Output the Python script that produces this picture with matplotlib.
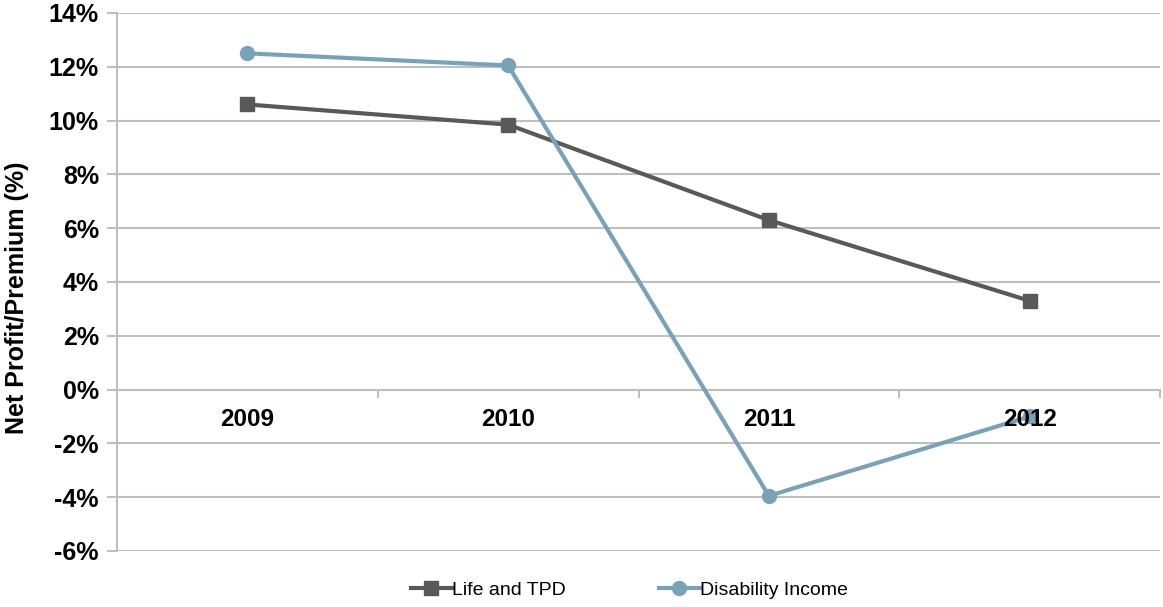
import matplotlib
matplotlib.use("Agg")
from matplotlib import pyplot as plt
from matplotlib.ticker import FuncFormatter
import numpy as np

plt.rcParams['font.family'] = ['Liberation Sans', 'DejaVu Sans']

# data
years = ['2009', '2010', '2011', '2012']
life_tpd = [10.6, 9.85, 6.3, 3.3]
disability_income = [12.5, 12.05, -3.95, -1.0]

y_ticks = np.arange(-6, 15, 2)

LIFE_COLOR = '#595959'
DI_COLOR = '#7AA2B7'
GRID_COLOR = '#BFBFBF'

fig = plt.figure(figsize=(11.63, 6.07), dpi=100)
ax = fig.add_axes([117 / 1163, 1 - 551 / 607, (1160 - 117) / 1163, (551 - 13) / 607])

x = np.arange(len(years))
ax.plot(x, life_tpd, color=LIFE_COLOR, lw=3, marker='s', ms=10,
        label='Life and TPD', zorder=3)
ax.plot(x, disability_income, color=DI_COLOR, lw=3, marker='o', ms=10,
        label='Disability Income', zorder=3)

ax.set_xlim(-0.5, len(years) - 0.5)
ax.set_ylim(-6, 14)
ax.set_yticks(y_ticks)
ax.yaxis.set_major_formatter(FuncFormatter(lambda v, _: f'{v:.0f}%'))
ax.grid(axis='y', color=GRID_COLOR, lw=1.5, zorder=0)

# category axis sits on the zero line
ax.spines['bottom'].set_position(('data', 0))
ax.spines['bottom'].set_color(GRID_COLOR)
ax.spines['bottom'].set_linewidth(1.5)
ax.spines['left'].set_color(GRID_COLOR)
ax.spines['left'].set_linewidth(1.5)
ax.spines['top'].set_visible(False)
ax.spines['right'].set_visible(False)

ax.set_xticks(x)
ax.set_xticklabels(years, fontsize=17.5, fontweight='bold')
ax.set_xticks(np.arange(-0.5, len(years), 1), minor=True)
ax.tick_params(axis='x', which='major', length=0, pad=13)
ax.tick_params(axis='x', which='minor', length=6, width=1.5, color=GRID_COLOR, direction='out')
ax.tick_params(axis='y', length=7, width=1.5, color=GRID_COLOR, pad=6)
for lab in ax.get_yticklabels():
    lab.set_fontsize(18)
    lab.set_fontweight('bold')
# year labels sit on top of the lines, as in the original
ax.xaxis.set_zorder(4)

fig.text(17 / 1163, 1 - 298 / 607, 'Net Profit/Premium (%)', rotation=90,
         ha='center', va='center', fontsize=18, fontweight='bold')

fig.legend(loc='center', bbox_to_anchor=(0.541, 1 - 590 / 607), ncol=2,
           frameon=False, fontsize=14, handlelength=2.1, handletextpad=0.0,
           columnspacing=4.8, borderaxespad=0)

fig.savefig('out.png', dpi=100)
